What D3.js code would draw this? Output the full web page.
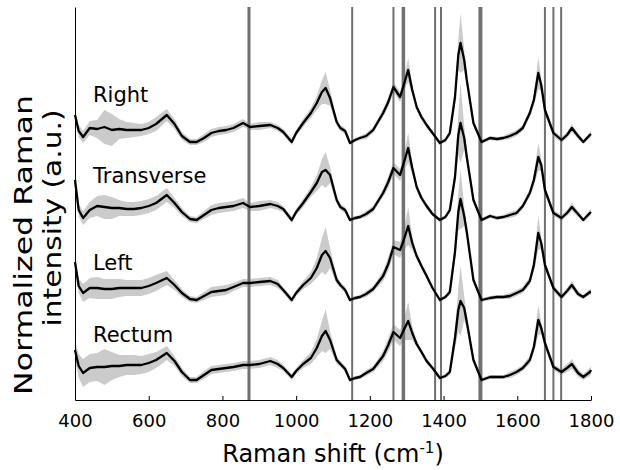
<!DOCTYPE html>
<meta charset="utf-8">
<script src="https://d3js.org/d3.v7.min.js"></script>
<style>
  body { margin: 0; background: #fff; }
  text { font-family: "DejaVu Sans", Verdana, sans-serif; }
</style>
<div id="my_dataviz"></div>
<script>

// wavenumber grid (cm-1)
const shift = [400, 410, 422, 440, 460, 480, 500, 520, 540, 560,
  580, 600, 620, 649, 670, 690, 712, 730, 750, 770,
  790, 810, 830, 856, 875, 900, 930, 950, 965, 988,
  1000, 1019, 1040, 1056, 1070, 1080, 1092, 1110, 1120, 1133,
  1146, 1160, 1173, 1190, 1209, 1236, 1250, 1264, 1282, 1292,
  1304, 1315, 1327, 1340, 1354, 1370, 1390, 1405, 1417, 1431,
  1440, 1446, 1456, 1463, 1481, 1503, 1526, 1545, 1562, 1580,
  1598, 1615, 1634, 1645, 1657, 1665, 1675, 1698, 1720, 1735,
  1748, 1765, 1779, 1797, 1800];

const regions = ["Right", "Transverse", "Left", "Rectum"];
const offsets = [2.57, 1.80, 1.00, 0.20];

// mean normalized intensity
const meanRight = [0.28, 0.12, 0.06, 0.15, 0.14, 0.16, 0.13, 0.14, 0.13, 0.13,
  0.13, 0.15, 0.19, 0.28, 0.19, 0.07, 0.01, 0.01, 0.05, 0.10,
  0.12, 0.13, 0.15, 0.20, 0.16, 0.17, 0.18, 0.15, 0.11, 0.01,
  0.10, 0.20, 0.30, 0.40, 0.51, 0.55, 0.45, 0.21, 0.15, 0.12,
  0.00, 0.03, 0.05, 0.07, 0.13, 0.30, 0.41, 0.56, 0.46, 0.58,
  0.73, 0.53, 0.36, 0.26, 0.18, 0.10, 0.00, 0.03, 0.10, 0.46,
  0.88, 1.00, 0.83, 0.63, 0.20, 0.01, 0.05, 0.04, 0.05, 0.07,
  0.10, 0.15, 0.30, 0.43, 0.70, 0.58, 0.33, 0.10, 0.03, 0.08,
  0.15, 0.07, 0.01, 0.08, 0.09];
const meanTransverse = [0.40, 0.10, 0.02, 0.10, 0.14, 0.13, 0.12, 0.12, 0.11, 0.11,
  0.12, 0.14, 0.17, 0.25, 0.17, 0.08, 0.01, 0.00, 0.05, 0.10,
  0.12, 0.13, 0.14, 0.17, 0.13, 0.14, 0.16, 0.14, 0.11, 0.00,
  0.08, 0.17, 0.28, 0.37, 0.48, 0.50, 0.45, 0.20, 0.13, 0.10,
  0.00, 0.02, 0.03, 0.06, 0.11, 0.27, 0.38, 0.52, 0.45, 0.57,
  0.72, 0.52, 0.33, 0.22, 0.14, 0.06, 0.00, 0.03, 0.10, 0.43,
  0.85, 0.97, 0.82, 0.63, 0.20, 0.00, 0.04, 0.02, 0.03, 0.05,
  0.07, 0.14, 0.27, 0.40, 0.63, 0.55, 0.30, 0.07, 0.02, 0.07,
  0.13, 0.06, 0.00, 0.07, 0.08];
const meanLeft = [0.38, 0.14, 0.07, 0.12, 0.12, 0.11, 0.11, 0.12, 0.12, 0.12,
  0.12, 0.14, 0.17, 0.22, 0.15, 0.07, 0.01, 0.00, 0.04, 0.08,
  0.09, 0.10, 0.13, 0.17, 0.17, 0.18, 0.19, 0.16, 0.10, 0.00,
  0.07, 0.15, 0.22, 0.32, 0.45, 0.49, 0.42, 0.20, 0.15, 0.10,
  0.00, 0.02, 0.03, 0.06, 0.11, 0.24, 0.36, 0.53, 0.50, 0.60,
  0.74, 0.57, 0.44, 0.34, 0.24, 0.12, 0.00, 0.03, 0.08, 0.48,
  0.88, 1.01, 0.84, 0.68, 0.20, 0.00, 0.02, 0.03, 0.03, 0.04,
  0.07, 0.10, 0.19, 0.35, 0.67, 0.57, 0.35, 0.12, 0.03, 0.09,
  0.15, 0.06, 0.03, 0.08, 0.08];
const meanRectum = [0.30, 0.14, 0.07, 0.12, 0.13, 0.13, 0.14, 0.14, 0.15, 0.15,
  0.15, 0.17, 0.20, 0.27, 0.19, 0.08, 0.00, 0.00, 0.05, 0.10,
  0.11, 0.12, 0.13, 0.15, 0.15, 0.16, 0.19, 0.16, 0.12, 0.03,
  0.09, 0.16, 0.22, 0.32, 0.44, 0.49, 0.40, 0.20, 0.16, 0.11,
  0.00, 0.02, 0.03, 0.07, 0.11, 0.24, 0.35, 0.48, 0.42, 0.50,
  0.59, 0.47, 0.36, 0.28, 0.19, 0.12, 0.02, 0.04, 0.08, 0.42,
  0.70, 0.79, 0.72, 0.58, 0.20, 0.00, 0.03, 0.03, 0.03, 0.05,
  0.08, 0.12, 0.20, 0.33, 0.60, 0.52, 0.37, 0.13, 0.08, 0.12,
  0.16, 0.07, 0.03, 0.08, 0.10];

// standard deviation (shaded band)
const sdRight = [0.04, 0.06, 0.06, 0.07, 0.09, 0.17, 0.16, 0.10, 0.08, 0.07,
  0.06, 0.06, 0.07, 0.06, 0.05, 0.04, 0.03, 0.03, 0.04, 0.04,
  0.04, 0.04, 0.04, 0.04, 0.03, 0.04, 0.03, 0.03, 0.03, 0.03,
  0.03, 0.04, 0.05, 0.07, 0.12, 0.16, 0.08, 0.04, 0.03, 0.03,
  0.02, 0.02, 0.02, 0.03, 0.03, 0.04, 0.05, 0.05, 0.05, 0.06,
  0.12, 0.05, 0.03, 0.03, 0.03, 0.02, 0.02, 0.02, 0.03, 0.06,
  0.15, 0.30, 0.10, 0.05, 0.03, 0.02, 0.02, 0.02, 0.02, 0.03,
  0.03, 0.03, 0.04, 0.05, 0.16, 0.06, 0.04, 0.03, 0.03, 0.03,
  0.04, 0.03, 0.02, 0.03, 0.03];
const sdTransverse = [0.04, 0.06, 0.07, 0.08, 0.10, 0.12, 0.11, 0.08, 0.07, 0.07,
  0.07, 0.07, 0.07, 0.07, 0.05, 0.04, 0.03, 0.03, 0.04, 0.05,
  0.05, 0.05, 0.05, 0.05, 0.04, 0.05, 0.04, 0.04, 0.03, 0.03,
  0.03, 0.04, 0.05, 0.08, 0.13, 0.18, 0.08, 0.04, 0.03, 0.03,
  0.02, 0.02, 0.02, 0.03, 0.03, 0.04, 0.06, 0.06, 0.06, 0.07,
  0.15, 0.06, 0.03, 0.03, 0.03, 0.02, 0.02, 0.02, 0.03, 0.08,
  0.20, 0.40, 0.12, 0.06, 0.03, 0.02, 0.02, 0.02, 0.02, 0.03,
  0.03, 0.03, 0.04, 0.06, 0.14, 0.06, 0.04, 0.03, 0.03, 0.03,
  0.04, 0.03, 0.02, 0.03, 0.03];
const sdLeft = [0.05, 0.07, 0.09, 0.10, 0.11, 0.10, 0.10, 0.09, 0.08, 0.08,
  0.08, 0.08, 0.08, 0.07, 0.05, 0.04, 0.03, 0.03, 0.04, 0.05,
  0.05, 0.05, 0.04, 0.04, 0.04, 0.04, 0.04, 0.04, 0.03, 0.03,
  0.03, 0.04, 0.06, 0.10, 0.17, 0.24, 0.10, 0.04, 0.03, 0.03,
  0.02, 0.02, 0.02, 0.03, 0.03, 0.05, 0.07, 0.07, 0.08, 0.10,
  0.19, 0.07, 0.03, 0.03, 0.03, 0.02, 0.02, 0.02, 0.03, 0.08,
  0.18, 0.30, 0.10, 0.05, 0.03, 0.02, 0.02, 0.02, 0.02, 0.03,
  0.03, 0.03, 0.04, 0.06, 0.17, 0.06, 0.04, 0.03, 0.03, 0.03,
  0.04, 0.03, 0.02, 0.03, 0.03];
const sdRectum = [0.08, 0.12, 0.14, 0.14, 0.14, 0.18, 0.14, 0.11, 0.10, 0.10,
  0.09, 0.09, 0.08, 0.07, 0.05, 0.04, 0.03, 0.03, 0.04, 0.04,
  0.04, 0.04, 0.04, 0.04, 0.04, 0.04, 0.04, 0.04, 0.03, 0.03,
  0.03, 0.04, 0.06, 0.09, 0.15, 0.22, 0.09, 0.04, 0.03, 0.03,
  0.02, 0.02, 0.02, 0.03, 0.03, 0.05, 0.07, 0.08, 0.08, 0.10,
  0.19, 0.07, 0.03, 0.03, 0.03, 0.02, 0.02, 0.02, 0.03, 0.10,
  0.22, 0.35, 0.12, 0.06, 0.03, 0.02, 0.02, 0.02, 0.02, 0.03,
  0.03, 0.03, 0.04, 0.06, 0.15, 0.06, 0.04, 0.03, 0.03, 0.04,
  0.05, 0.04, 0.03, 0.04, 0.04];

// marked Raman bands (cm-1)
const bands = [872, 1152, 1264, 1291, 1377, 1393, 1500, 1675, 1698, 1719];

const xTicks = [400, 600, 800, 1000, 1200, 1400, 1600, 1800];

const means = [meanRight, meanTransverse, meanLeft, meanRectum];
const sds = [sdRight, sdTransverse, sdLeft, sdRectum];

// dimensions
const width = 620, height = 470;
const margin = {top: 7, right: 29, bottom: 70, left: 75};

const svg = d3.select("#my_dataviz")
  .append("svg")
    .attr("width", width)
    .attr("height", height);

const x = d3.scaleLinear()
  .domain([400, 1800])
  .range([margin.left, width - margin.right]);

const y = d3.scaleLinear()
  .domain([0, 3.93])
  .range([height - margin.bottom, margin.top]);

// shaded sd bands
regions.forEach(function(name, i) {
  const rows = shift.map(function(s, k) {
    return {s: s, m: means[i][k] + offsets[i], sd: sds[i][k]};
  });
  svg.append("path")
    .datum(rows)
    .attr("fill", "#cbcbcb")
    .attr("d", d3.area()
      .x(d => x(d.s))
      .y0(d => y(d.m - d.sd))
      .y1(d => y(d.m + d.sd)));
});

// vertical band markers
const thick = {872: 3, 1291: 3.5, 1500: 4};
svg.selectAll("line.band")
  .data(bands)
  .enter()
  .append("line")
    .attr("class", "band")
    .attr("x1", d => x(d))
    .attr("x2", d => x(d))
    .attr("y1", y(3.93))
    .attr("y2", y(0))
    .attr("stroke", "#707070")
    .attr("stroke-width", d => thick[d] || 2);

// mean spectra
regions.forEach(function(name, i) {
  const rows = shift.map(function(s, k) { return {s: s, m: means[i][k] + offsets[i]}; });
  svg.append("path")
    .datum(rows)
    .attr("fill", "none")
    .attr("stroke", "#000")
    .attr("stroke-width", 2.3)
    .attr("stroke-linejoin", "round")
    .attr("d", d3.line().x(d => x(d.s)).y(d => y(d.m)));
});

// region labels
const labelPos = [101.7, 183, 269.7, 342];
svg.selectAll("text.region")
  .data(regions)
  .enter()
  .append("text")
    .attr("class", "region")
    .attr("x", 93)
    .attr("y", (d, i) => labelPos[i])
    .style("font-size", "21px")
    .text(d => d);

// axes
const xAxis = svg.append("g")
  .attr("transform", "translate(0," + y(0) + ")")
  .call(d3.axisBottom(x).tickValues(xTicks).tickFormat(d3.format("d"))
    .tickSizeInner(-4).tickSizeOuter(0).tickPadding(14));
xAxis.selectAll("text").style("font-size", "18px").attr("fill", "#000")
  .style("font-family", "DejaVu Sans, Verdana, sans-serif");
xAxis.select(".domain").attr("stroke", "#000");

svg.append("g")
  .attr("transform", "translate(" + x(400) + ",0)")
  .call(d3.axisLeft(y).tickValues([]).tickSizeOuter(0))
  .select(".domain").attr("stroke", "#000");

// axis titles
const xt = svg.append("text")
  .attr("x", (x(400) + x(1800)) / 2)
  .attr("y", 462)
  .attr("text-anchor", "middle")
  .style("font-size", "24px");
xt.append("tspan").text("Raman shift (cm");
xt.append("tspan").attr("dy", -9).style("font-size", "15px").text("-1");
xt.append("tspan").attr("dy", 9).text(")");

svg.append("text")
  .attr("transform", "translate(32,245) rotate(-90)")
  .attr("text-anchor", "middle")
  .attr("textLength", 300)
  .attr("lengthAdjust", "spacingAndGlyphs")
  .style("font-size", "24px")
  .text("Normalized Raman");

svg.append("text")
  .attr("transform", "translate(61,218) rotate(-90)")
  .attr("text-anchor", "middle")
  .attr("textLength", 217)
  .attr("lengthAdjust", "spacingAndGlyphs")
  .style("font-size", "24px")
  .text("intensity (a.u.)");

</script>
